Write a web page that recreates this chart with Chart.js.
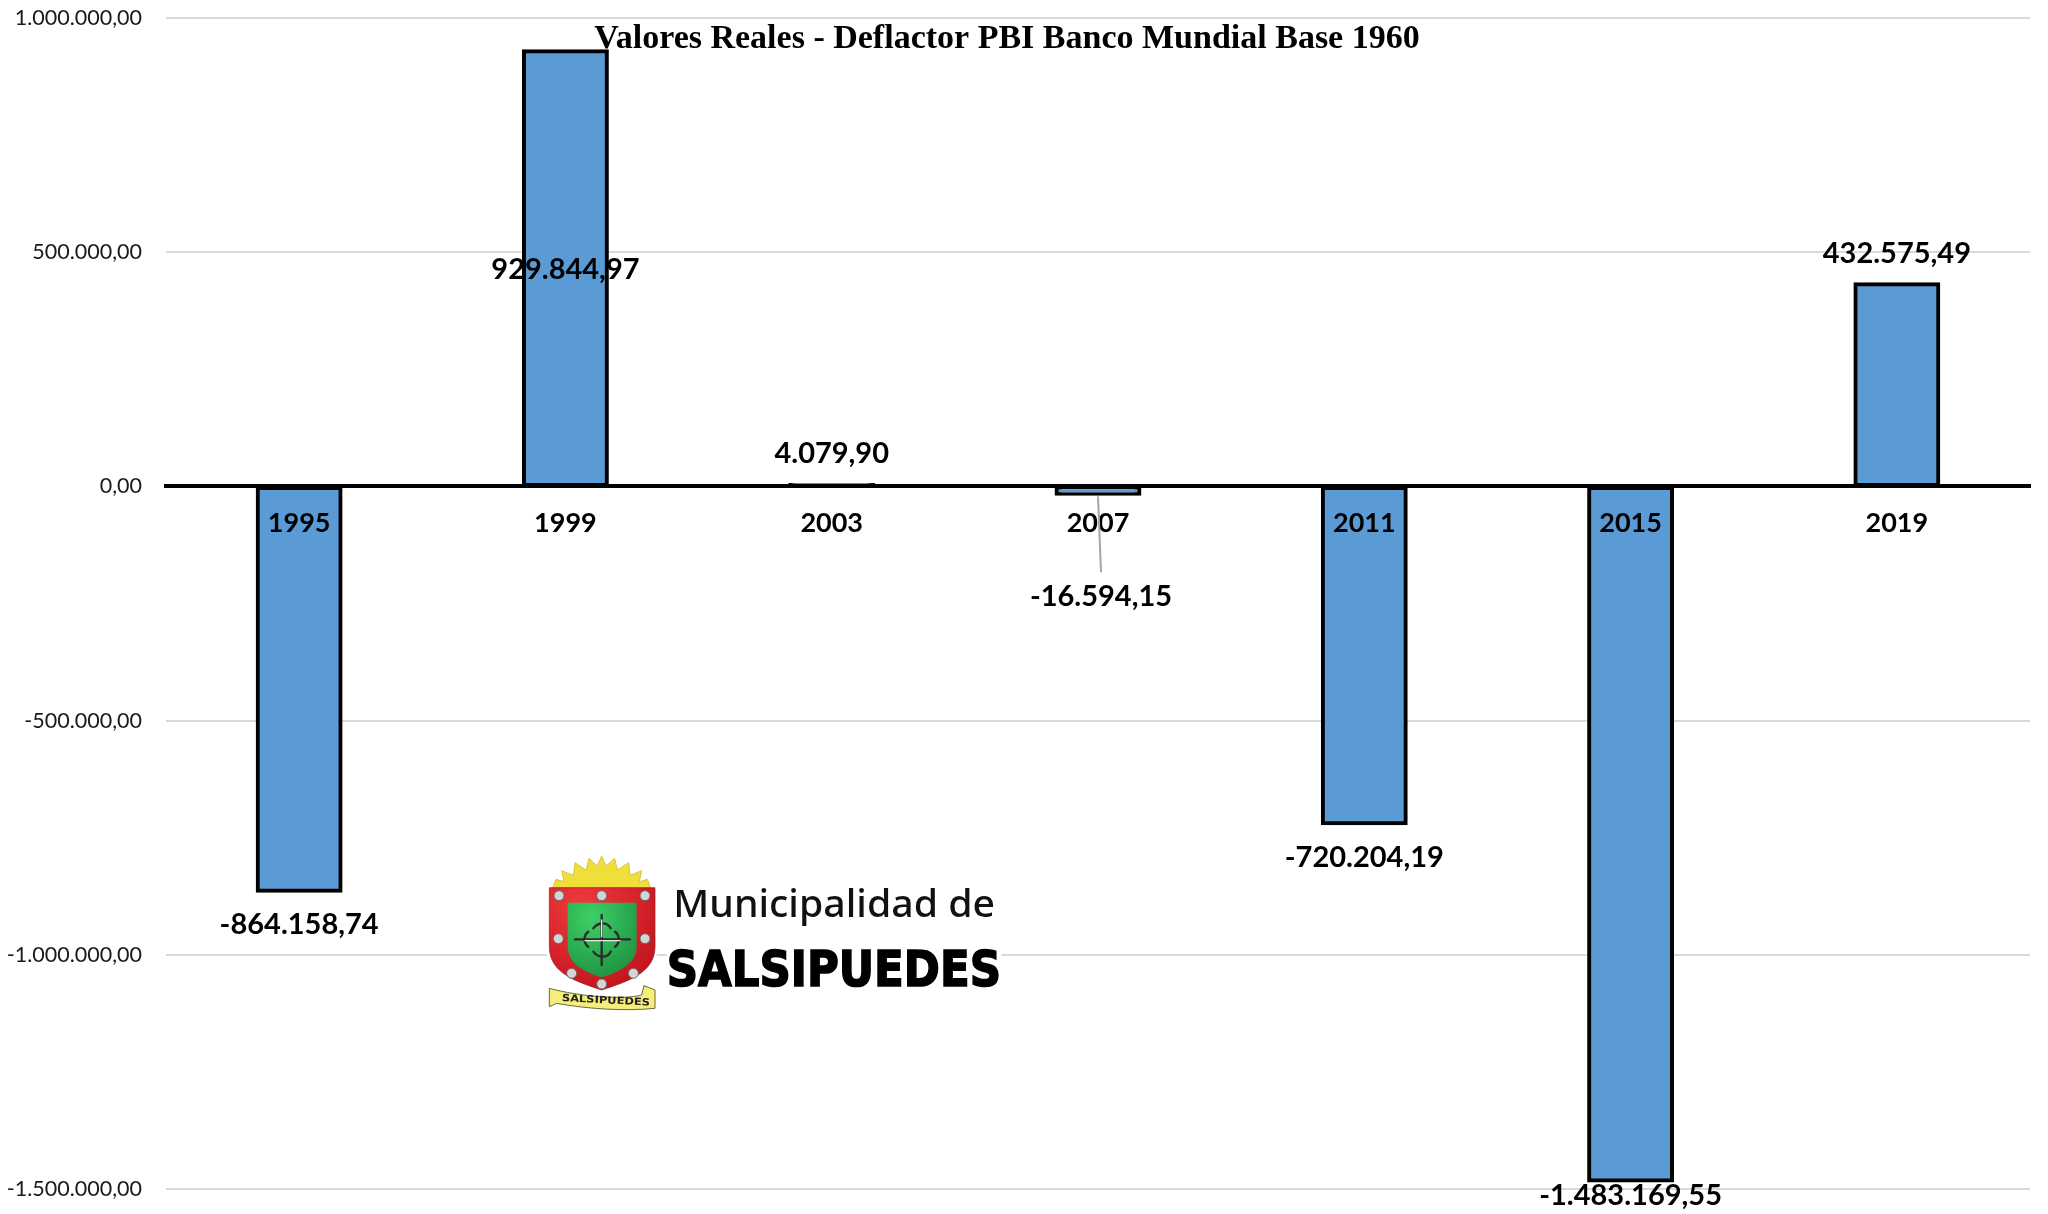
<!DOCTYPE html>
<html lang="es">
<head>
<meta charset="utf-8">
<title>Valores Reales</title>
<script src="https://cdn.jsdelivr.net/npm/chart.js@4/dist/chart.umd.min.js"></script>
<style>
html,body{margin:0;padding:0;background:#fff;width:2048px;height:1214px;overflow:hidden}
#wrap{position:relative;width:2048px;height:1214px}
canvas{position:absolute;left:0;top:0}
#logo{position:absolute;left:520px;top:840px;width:500px;height:200px}
</style>
</head>
<body>
<div id="wrap">
<canvas id="c" width="2048" height="1214"></canvas>
<svg id="logo" viewBox="0 0 1500 600" xmlns="http://www.w3.org/2000/svg">
  <defs>
    <radialGradient id="gr" cx="0.35" cy="0.2" r="0.9"><stop offset="0" stop-color="#3fd067"/><stop offset="1" stop-color="#1c8f40"/></radialGradient>
    <radialGradient id="rd" cx="0.3" cy="0.15" r="0.9"><stop offset="0" stop-color="#ee3a3e"/><stop offset="1" stop-color="#c3141c"/></radialGradient>
  </defs>
  <rect x="80" y="45" width="330" height="475" fill="#fff"/>
  <rect x="440" y="320" width="1005" height="125" fill="#fff"/>
  <polygon fill="#f0de3a" stroke="#c9b020" stroke-width="2" points="98,143 108,118 132,125 125,92 160,106 165,68 198,90 207,55 232,78 245,48 258,78 284,55 292,90 326,68 330,106 365,92 358,125 382,118 392,143"/>
  <path d="M88 143H405V320C405 400 320 425 245 450C170 425 88 400 88 320Z" fill="url(#rd)" stroke="#8e1a1c" stroke-width="2"/>
  <path d="M143 188H350V320C350 370 300 395 245 412C190 395 143 370 143 320Z" fill="url(#gr)"/>
  <g fill="#d4d4d4" stroke="#666" stroke-width="3">
    <circle cx="117" cy="167" r="15"/><circle cx="245" cy="167" r="15"/><circle cx="375" cy="167" r="15"/>
    <circle cx="115" cy="296" r="15"/><circle cx="375" cy="296" r="15"/>
    <circle cx="155" cy="400" r="15"/><circle cx="340" cy="400" r="15"/><circle cx="245" cy="432" r="15"/>
  </g>
  <g stroke="#2b2b2b" stroke-width="7" fill="none" stroke-linecap="round">
    <path d="M245 225V375M165 298H330"/>
    <path d="M220 265C235 245 262 245 272 265M220 335C235 355 262 355 272 335"/>
    <path d="M205 275C190 285 190 310 205 320M285 275C300 285 300 310 285 320"/>
  </g>
  <g stroke="#e8e8e8" stroke-width="4" fill="none" stroke-linecap="round">
    <path d="M245 240V290M195 302H300"/>
  </g>
  <path d="M88 445C180 470 310 480 365 465L372 437L405 450V505C310 515 190 505 110 490L88 500Z" fill="#f5ee7a" stroke="#6a6a3a" stroke-width="3"/>
  <text x="125" y="483" font-family="'DejaVu Sans'" font-weight="700" font-size="30" textLength="265" lengthAdjust="spacingAndGlyphs" fill="#222" transform="rotate(3 125 483)">SALSIPUEDES</text>
  <text x="460" y="230" font-family="'Noto Sans'" font-weight="500" font-size="112" textLength="965" lengthAdjust="spacingAndGlyphs" fill="#111">Municipalidad de</text>
  <text x="440" y="437" font-family="'DejaVu Sans'" font-weight="700" font-size="150" textLength="1003" lengthAdjust="spacingAndGlyphs" fill="#000" stroke="#000" stroke-width="5">SALSIPUEDES</text>
</svg>
</div>
<script>
const titleText = 'Valores Reales - Deflactor PBI Banco Mundial Base 1960';
const categories = ['1995', '1999', '2003', '2007', '2011', '2015', '2019'];
const values = [-864158.74, 929844.97, 4079.90, -16594.15, -720204.19, -1483169.55, 432575.49];
const yMin = -1500000, yMax = 1000000, yStep = 500000;

function esNumber(v) {
  const neg = v < 0;
  const [i, d] = Math.abs(v).toFixed(2).split('.');
  return (neg ? '-' : '') + i.replace(/\B(?=(\d{3})+(?!\d))/g, '.') + ',' + d;
}

const labelFont = "700 29px Lato, Carlito, sans-serif";
function labelY(i, el) {
  switch (categories[i]) {
    case '1995': return el.y + 33;
    case '1999': return 270;
    case '2003': return el.y - 31;
    case '2007': return el.y + 102;
    case '2011': return el.y + 34;
    case '2015': return el.y + 15;
    default: return el.y - 30;
  }
}

const overlay = {
  id: 'overlay',
  afterDraw(chart) {
    const ctx = chart.ctx, meta = chart.getDatasetMeta(0);
    ctx.save();
    meta.data.forEach((el, i) => {
      if (categories[i] === '2007') {
        ctx.strokeStyle = '#a6a6a6'; ctx.lineWidth = 2;
        ctx.beginPath(); ctx.moveTo(el.x, el.y + 2); ctx.lineTo(el.x + 3, labelY(i, el) - 24); ctx.stroke();
      }
    });
    ctx.font = labelFont; ctx.fillStyle = '#000'; ctx.textAlign = 'center'; ctx.textBaseline = 'middle';
    meta.data.forEach((el, i) => {
      const dx = categories[i] === '2007' ? 3 : 0;
      ctx.fillText(esNumber(values[i]), el.x + dx, labelY(i, el));
    });
    ctx.font = "700 34px 'Liberation Serif', serif";
    ctx.fillText(titleText, 1007, 39);
    ctx.restore();
  }
};

new Chart(document.getElementById('c'), {
  type: 'bar',
  data: {
    labels: categories,
    datasets: [{
      data: values,
      backgroundColor: '#5b9bd5',
      borderColor: '#000',
      borderWidth: 4,
      borderSkipped: false,
      inflateAmount: 1.5,
      barPercentage: 0.315,
      categoryPercentage: 1
    }]
  },
  options: {
    responsive: false,
    animation: false,
    layout: { padding: { top: 18, bottom: 25, right: 18, left: 0 } },
    plugins: { legend: { display: false }, title: { display: false }, tooltip: { enabled: false } },
    scales: {
      x: {
        position: { y: 0 },
        afterFit(s) { s.paddingTop = 0; s.paddingBottom = 0; },
        grid: { display: false, drawTicks: false },
        border: { color: '#000', width: 4, z: 1 },
        ticks: {
          z: 1, padding: 21, maxRotation: 0, autoSkip: false, color: '#000',
          font: { family: 'Lato, Carlito, sans-serif', size: 27, weight: '700' }
        }
      },
      y: {
        min: yMin, max: yMax,
        afterFit(s) { s.width = 166; s.paddingTop = 0; s.paddingBottom = 0; },
        grid: { color: '#d9d9d9', lineWidth: 2, drawTicks: false },
        border: { display: false },
        ticks: {
          stepSize: yStep, padding: 24, color: '#1a1a1a',
          font: { family: 'Lato, Carlito, sans-serif', size: 21.5 },
          callback: v => esNumber(v)
        }
      }
    }
  },
  plugins: [overlay]
});
</script>
</body>
</html>
